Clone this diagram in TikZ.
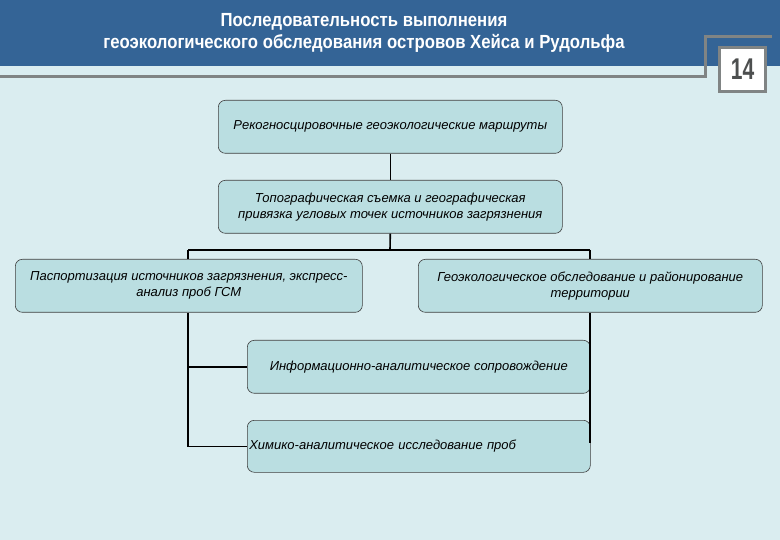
\documentclass[tikz,border=0pt]{standalone}
\usepackage{fontspec}
\setmainfont{Liberation Sans}
\definecolor{bandblue}{RGB}{52,100,150}
\definecolor{bgc}{RGB}{218,237,240}
\definecolor{boxc}{RGB}{186,222,225}
\definecolor{framegrey}{RGB}{128,132,132}
\begin{document}
\begin{tikzpicture}[x=1pt,y=-1pt,
 box/.style={draw=black!75,fill=boxc,rounded corners=7pt,line width=0.6pt,minimum width=344pt,minimum height=53pt,anchor=north west,align=center,font=\itshape\fontsize{13}{16}\selectfont,inner sep=1pt},
 link/.style={line width=1.6pt}]
\useasboundingbox (0,0) rectangle (780,540);
\fill[bgc] (0,0) rectangle (780,540);
\fill[bandblue] (0,0) rectangle (780,66);
\draw[framegrey,line width=3pt] (0,77) -- (705,77) -- (705,37) -- (772,37);
\node[draw=framegrey,line width=3pt,fill=white,minimum width=46pt,minimum height=44pt,anchor=north west] (num) at (718,46) {};
\node[font=\bfseries\fontsize{30}{32}\selectfont,text=framegrey!60!black,xscale=0.7] (numt) at (num.center) {14};
\node[text=white,align=center,font=\bfseries\fontsize{19}{22}\selectfont,xscale=0.88] (title) at (364,33) {Последовательность выполнения\\геоэкологического обследования островов Хейса и Рудольфа};
\node[box] (a) at (218,100) {Рекогносцировочные геоэкологические маршруты};
\node[box] (b) at (218,180) {Топографическая съемка и географическая\\привязка угловых точек источников загрязнения};
\node[box,minimum width=347pt] (c) at (15,259) {Паспортизация источников загрязнения, экспресс-\\анализ проб ГСМ};
\node[box] (d) at (418,259) {Геоэкологическое обследование и районирование\\территории};
\node[box,minimum width=343pt] (e) at (247,340) {Информационно-аналитическое сопровождение};
\node[box,minimum width=343pt,minimum height=52pt,align=left,text width=339pt] (f) at (247,420) {Химико-аналитическое исследование проб};
\coordinate (j) at (390,250);
\coordinate (jl) at (188,250);
\coordinate (jr) at (590,250);
\draw[link] (a.south) -- (b.north);
\draw[link] (b.south) -- (j);
\draw[link] (jl) -- (jr);
\draw[link] (jl) -- (jl |- c.north);
\draw[link] (jr) -- (jr |- d.north);
\draw[link] (jl |- c.south) -- (jl |- f.west) -- (f.west);
\draw[link] (jl |- e.west) -- (e.west);
\draw[link] (jr |- d.south) -- (590,443);
\end{tikzpicture}
\end{document}
